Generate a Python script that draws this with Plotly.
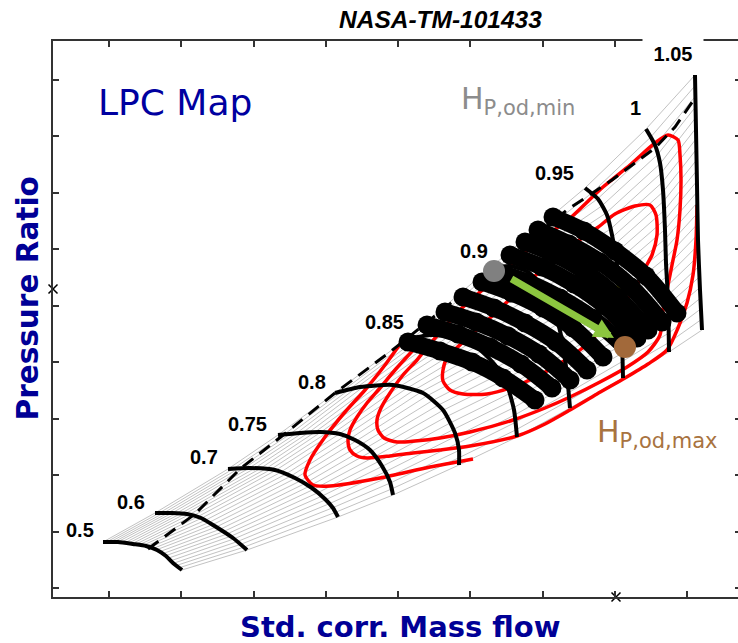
import numpy as np
import plotly.graph_objects as go

# ---------------- data (W = std. corr. mass flow, PR = pressure ratio) ----------------
# speed lines, from surge side (first point) to choke side (last point)
N050_W = [5.0, 6.5, 8.0, 9.3, 10.4, 11.3, 12.0, 12.9]
N050_PR = [1.55, 1.55, 1.53, 1.51, 1.47, 1.41, 1.34, 1.27]
N060_W = [10.2, 11.9, 13.4, 14.8, 16.0, 18.0, 19.4]
N060_PR = [1.84, 1.84, 1.83, 1.79, 1.72, 1.59, 1.47]
N070_W = [17.5, 19.7, 22.2, 24.2, 25.9, 27.2, 28.0, 28.5]
N070_PR = [2.28, 2.29, 2.27, 2.19, 2.09, 1.98, 1.89, 1.80]
N075_W = [22.5, 24.7, 26.7, 28.7, 30.2, 31.7, 32.9, 33.7, 34.0]
N075_PR = [2.62, 2.64, 2.65, 2.63, 2.57, 2.47, 2.31, 2.15, 2.02]
N080_W = [28.2, 30.7, 34.0, 37.0, 39.0, 40.2, 40.6, 40.6]
N080_PR = [3.04, 3.10, 3.12, 3.04, 2.87, 2.64, 2.47, 2.32]
N085_W = [35.2, 37.7, 40.2, 42.5, 44.2, 45.4, 46.1, 46.4]
N085_PR = [3.57, 3.62, 3.60, 3.49, 3.32, 3.12, 2.87, 2.60]
N090_W = [43.7, 45.7, 47.5, 49.0, 50.1, 50.9, 51.4, 51.7]
N090_PR = [4.29, 4.31, 4.25, 4.10, 3.87, 3.57, 3.22, 2.89]
N095_W = [53.2, 54.5, 55.4, 55.9, 56.4, 56.7, 56.9, 57.0]
N095_PR = [5.09, 4.98, 4.82, 4.62, 4.32, 3.97, 3.57, 3.19]
N100_W = [59.3, 60.2, 60.7, 61.0, 61.2, 61.3, 61.5, 61.6]
N100_PR = [5.68, 5.52, 5.34, 5.07, 4.67, 4.34, 3.97, 3.45]
N105_W = [64.2, 64.3, 64.4, 64.5, 64.7, 64.9]
N105_PR = [6.22, 5.67, 5.12, 4.57, 4.07, 3.67]

SPEED_LABELS = ["0.5", "0.6", "0.7", "0.75", "0.8", "0.85", "0.9", "0.95", "1", "1.05"]
LABEL_W = [2.7, 7.8, 15.1, 19.4, 25.9, 33.1, 42.1, 50.1, 58.2, 62.0]
LABEL_PR = [1.67, 1.95, 2.40, 2.73, 3.15, 3.75, 4.46, 5.24, 5.89, 6.43]

# dashed line (constant beta)
DASH_W = [9.5, 14.2, 18.7, 22.9, 28.2, 33.7, 51.4, 55.9, 60.2, 62.2, 64.2]
DASH_PR = [1.48, 1.83, 2.28, 2.61, 3.04, 3.45, 4.87, 5.17, 5.49, 5.70, 5.99]

# efficiency contours
EFF1_W = [42.0, 37.7, 32.7, 27.7, 26.0, 25.2, 25.7, 27.2, 29.2, 31.2, 33.2, 35.0]
EFF1_PR = [2.38, 2.30, 2.19, 2.11, 2.12, 2.22, 2.37, 2.60, 2.85, 3.07, 3.32, 3.57]
EFF2_W = [64.4, 64.3, 64.0, 63.4, 62.5, 61.4, 59.5, 57.2, 54.4, 51.7, 49.2, 46.4, 41.7,
          38.7, 36.0, 33.7, 31.4, 30.4, 29.7, 29.5, 29.7, 30.4, 31.4, 32.7, 34.2, 36.3]
EFF2_PR = [4.92, 4.57, 4.22, 3.94, 3.69, 3.47, 3.33, 3.19, 3.03, 2.87, 2.73, 2.61, 2.51,
           2.47, 2.44, 2.41, 2.39, 2.41, 2.47, 2.57, 2.67, 2.80, 2.94, 3.09, 3.27, 3.50]
EFF3_W = [37.2, 36.4, 35.0, 33.7, 32.8, 32.4, 32.5, 33.1, 34.4, 36.2, 38.7, 41.7, 46.0,
          49.2, 51.7, 54.7, 57.4, 59.5, 60.7, 61.0, 61.4, 61.9, 62.4, 62.7, 62.8, 62.7,
          62.5, 61.5, 60.2, 57.7, 55.0, 51.5, 48.7, 44.7, 40.7, 37.2]
EFF3_PR = [3.47, 3.37, 3.22, 3.04, 2.89, 2.77, 2.67, 2.59, 2.55, 2.56, 2.59, 2.65, 2.77,
           2.89, 3.00, 3.15, 3.30, 3.45, 3.62, 3.87, 4.07, 4.32, 4.57, 4.87, 5.17, 5.42,
           5.57, 5.62, 5.54, 5.32, 5.10, 4.77, 4.57, 4.22, 3.87, 3.47]
EFF4_W = [39.4, 39.0, 39.0, 39.7, 41.0, 43.4, 45.7, 48.7, 52.7, 56.2, 58.4, 59.2, 59.9,
          60.4, 60.3, 59.7, 58.2, 56.2, 54.4, 51.2, 47.2, 43.7, 40.9, 39.4]
EFF4_PR = [3.39, 3.27, 3.16, 3.07, 3.03, 3.03, 3.09, 3.22, 3.47, 3.82, 4.12, 4.29, 4.42,
           4.62, 4.82, 4.92, 4.91, 4.83, 4.69, 4.47, 4.12, 3.79, 3.54, 3.39]
PEAK_W = [56.7]
PEAK_PR = [4.09]

# off-design operating points, one row per speed
ROW_A_W = [35.5, 38.7, 41.9, 45.0, 48.2]
ROW_A_PR = [3.55, 3.46, 3.35, 3.19, 2.97]
ROW_B_W = [37.4, 40.5, 43.7, 46.8, 49.9]
ROW_B_PR = [3.72, 3.63, 3.50, 3.33, 3.09]
ROW_C_W = [39.2, 42.3, 45.5, 48.6, 51.7]
ROW_C_PR = [3.85, 3.75, 3.61, 3.43, 3.17]
ROW_D_W = [41.0, 44.1, 47.2, 50.3, 53.4]
ROW_D_PR = [4.00, 3.89, 3.74, 3.55, 3.27]
ROW_E_W = [42.9, 45.9, 49.0, 52.0, 55.0]
ROW_E_PR = [4.15, 4.04, 3.89, 3.69, 3.40]
ROW_F_W = [44.1, 47.4, 50.7, 53.9, 57.2]
ROW_F_PR = [4.26, 4.15, 3.99, 3.79, 3.50]
ROW_G_W = [45.7, 48.9, 52.1, 55.2, 58.4]
ROW_G_PR = [4.42, 4.30, 4.13, 3.91, 3.59]
ROW_H_W = [47.2, 50.3, 53.4, 56.4, 59.5]
ROW_H_PR = [4.55, 4.42, 4.24, 4.00, 3.67]
ROW_I_W = [48.5, 51.6, 54.7, 57.8, 60.9]
ROW_I_PR = [4.67, 4.53, 4.35, 4.10, 3.75]
ROW_J_W = [50.0, 53.1, 56.2, 59.3, 62.4]
ROW_J_PR = [4.80, 4.66, 4.46, 4.21, 3.84]

HMIN = (44.1, 4.26)
HMAX = (57.2, 3.50)
ARROW_FROM = (45.7, 4.19)
ARROW_TO = (56.1, 3.59)
CROSS_W = [0.0, 56.3]
CROSS_PR = [4.08, 1.0]

X_RANGE = [0, 68.5]
Y_RANGE = [1.0, 6.56]

# ---------------- figure ----------------
speeds = [(N050_W, N050_PR), (N060_W, N060_PR), (N070_W, N070_PR), (N075_W, N075_PR),
          (N080_W, N080_PR), (N085_W, N085_PR), (N090_W, N090_PR), (N095_W, N095_PR),
          (N100_W, N100_PR), (N105_W, N105_PR)]

fig = go.Figure()

# beta grid lines joining equal fractions of every speed line
n_beta = 25
sampled = []
for W, PR in speeds:
    w = np.array(W, float)
    p = np.array(PR, float)
    s = np.concatenate([[0.0], np.cumsum(np.hypot(np.diff(w) * 10, np.diff(p) * 100))])
    f = np.linspace(0, 1, n_beta) * s[-1]
    sampled.append((np.interp(f, s, w), np.interp(f, s, p)))
gx, gy = [], []
for j in range(n_beta):
    for sw, sp in sampled:
        gx.append(sw[j])
        gy.append(sp[j])
    gx.append(None)
    gy.append(None)
fig.add_trace(go.Scatter(x=gx, y=gy, mode="lines", line=dict(color="#c2c2c2", width=1),
                         hoverinfo="skip"))

for W, PR in [(EFF1_W, EFF1_PR), (EFF2_W, EFF2_PR), (EFF3_W, EFF3_PR), (EFF4_W, EFF4_PR)]:
    fig.add_trace(go.Scatter(x=W, y=PR, mode="lines",
                             line=dict(color="#ff0000", width=3.5, shape="spline", smoothing=0.7),
                             hoverinfo="skip"))

for W, PR in speeds:
    fig.add_trace(go.Scatter(x=W, y=PR, mode="lines",
                             line=dict(color="black", width=4, shape="spline", smoothing=0.6),
                             hoverinfo="skip"))

fig.add_trace(go.Scatter(x=DASH_W, y=DASH_PR, mode="lines",
                         line=dict(color="black", width=3, dash="13px,8px"), hoverinfo="skip"))

fig.add_trace(go.Scatter(x=PEAK_W, y=PEAK_PR, mode="markers",
                         marker=dict(color="#ffff00", size=8), hoverinfo="skip"))

rows = [(ROW_A_W, ROW_A_PR), (ROW_B_W, ROW_B_PR), (ROW_C_W, ROW_C_PR), (ROW_D_W, ROW_D_PR),
        (ROW_E_W, ROW_E_PR), (ROW_F_W, ROW_F_PR), (ROW_G_W, ROW_G_PR), (ROW_H_W, ROW_H_PR),
        (ROW_I_W, ROW_I_PR), (ROW_J_W, ROW_J_PR)]
for W, PR in rows:
    fig.add_trace(go.Scatter(x=W, y=PR, mode="lines+markers",
                             line=dict(color="black", width=17, shape="spline"),
                             marker=dict(color="black", size=19), hoverinfo="skip"))

fig.add_trace(go.Scatter(x=[HMIN[0]], y=[HMIN[1]], mode="markers",
                         marker=dict(color="#808080", size=22), hoverinfo="skip"))
fig.add_trace(go.Scatter(x=[HMAX[0]], y=[HMAX[1]], mode="markers",
                         marker=dict(color="#a2693a", size=22), hoverinfo="skip"))

fig.add_trace(go.Scatter(x=CROSS_W, y=CROSS_PR, mode="markers", cliponaxis=False,
                         marker=dict(symbol="x-thin", size=9, line=dict(width=1.5, color="black")),
                         hoverinfo="skip"))

# dummy trace for right-hand tick axis
fig.add_trace(go.Scatter(x=[X_RANGE[0]], y=[Y_RANGE[0]], yaxis="y2", mode="markers",
                         marker=dict(opacity=0), hoverinfo="skip"))

ann = []
for lab, w, p in zip(SPEED_LABELS, LABEL_W, LABEL_PR):
    a = dict(x=w, y=p, xref="x", yref="y", text="<b>%s</b>" % lab, showarrow=False,
             xanchor="center", yanchor="middle",
             font=dict(family="Liberation Sans", size=20, color="black"))
    if lab == "1.05":
        a.update(bgcolor="white", width=60, height=32, borderpad=0)
    ann.append(a)

ann.append(dict(x=ARROW_TO[0], y=ARROW_TO[1], ax=ARROW_FROM[0], ay=ARROW_FROM[1],
                xref="x", yref="y", axref="x", ayref="y", text="", showarrow=True,
                arrowhead=2, arrowsize=0.57, arrowwidth=7, arrowcolor="#8cc63f",
                standoff=0, startstandoff=0))

ann.append(dict(x=12.2, y=5.95, xref="x", yref="y", text="LPC Map", showarrow=False,
                xanchor="center", yanchor="middle",
                font=dict(family="DejaVu Sans", size=36, color="#0000a0")))
ann.append(dict(x=46.5, y=5.97, xref="x", yref="y", text="H<sub>P,od,min</sub>",
                showarrow=False, xanchor="center", yanchor="middle",
                font=dict(family="DejaVu Sans", size=30, color="#8c8c8c")))
ann.append(dict(x=60.4, y=2.64, xref="x", yref="y", text="H<sub>P,od,max</sub>",
                showarrow=False, xanchor="center", yanchor="middle",
                font=dict(family="DejaVu Sans", size=30, color="#a8733f")))

ann.append(dict(x=0.565, y=1.0378, xref="paper", yref="paper",
                xanchor="center", yanchor="middle",
                text="<b><i>NASA-TM-101433</i></b>", showarrow=False,
                font=dict(family="Liberation Sans", size=24.5, color="black")))
ann.append(dict(x=-0.0365, y=0.537, xref="paper", yref="paper", text="<b>Pressure Ratio</b>",
                xanchor="center", yanchor="middle",
                textangle=-90, showarrow=False,
                font=dict(family="DejaVu Sans", size=29.5, color="#000096")))
ann.append(dict(x=0.507, y=-0.0545, xref="paper", yref="paper",
                xanchor="center", yanchor="middle",
                text="<b>Std. corr. Mass flow</b>", showarrow=False,
                font=dict(family="DejaVu Sans", size=29, color="#000096")))

axis_style = dict(showgrid=False, zeroline=False, showticklabels=False, ticks="inside",
                  ticklen=6, tickwidth=2, tickcolor="#333333")

fig.update_layout(
    width=738, height=643,
    margin=dict(l=53, r=0, t=41, b=46, autoexpand=False),
    paper_bgcolor="white", plot_bgcolor="white",
    showlegend=False,
    xaxis=dict(range=X_RANGE, showline=True, linecolor="#333333", linewidth=2,
               mirror="ticks", tick0=5.6, dtick=7.225, **axis_style),
    yaxis=dict(range=Y_RANGE, showline=True, linecolor="#333333", linewidth=2,
               tick0=1.09, dtick=0.5644, **axis_style),
    yaxis2=dict(range=Y_RANGE, overlaying="y", side="right", showline=False,
                tick0=1.09, dtick=0.5644, showgrid=False, zeroline=False,
                showticklabels=False, ticks="inside", ticklen=3, tickwidth=2,
                tickcolor="#333333"),
    annotations=ann,
)

fig.write_html("out.html", config={"displayModeBar": False, "staticPlot": True},
               post_script="document.body.style.margin='0';document.body.style.overflow='hidden';")
